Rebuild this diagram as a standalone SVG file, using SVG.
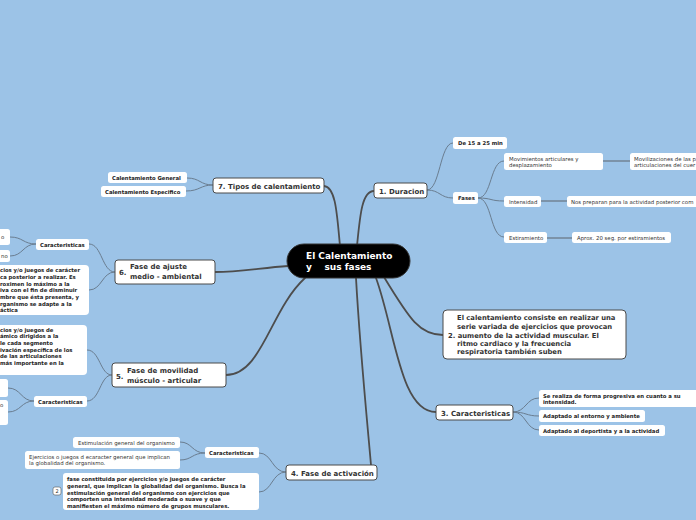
<svg xmlns="http://www.w3.org/2000/svg" width="696" height="520" viewBox="0 0 696 520">
<style>
.bg{fill:#9cc3e7}
.main{fill:#fff;stroke:#4a4a4a;stroke-width:1}
.sub{fill:#fff}
.mt{font-family:"DejaVu Sans",Verdana,sans-serif;font-weight:bold;font-size:7px;fill:#333}
.st{font-family:"DejaVu Sans",Verdana,sans-serif;font-weight:bold;font-size:5.3px;fill:#222}
.nt{font-family:"DejaVu Sans",Verdana,sans-serif;font-size:5.4px;fill:#333}
.ct{font-family:"DejaVu Sans",Verdana,sans-serif;font-weight:bold;font-size:9px;fill:#fff}
.c1{fill:none;stroke:#4d4d4d;stroke-width:1.8;stroke-linecap:round}
.c2{fill:none;stroke:#6a7d90;stroke-width:1}
.c3{fill:none;stroke:#7c93a9;stroke-width:2}
</style>
<rect class="bg" x="0" y="0" width="696" height="520"/>
<g id="connectors">
<path class="c1" d="M357 246 C360 215,362 191,374 191"/>
<path class="c1" d="M340 246 C337 215,336 187,324 186"/>
<path class="c1" d="M288 266 C260 268,240 272,215 272"/>
<path class="c1" d="M305 278 C270 310,262 375,226 375"/>
<path class="c1" d="M356 278 C360 350,368 430,371 465"/>
<path class="c1" d="M376 278 C395 330,400 412,436 412"/>
<path class="c1" d="M384 277 C410 320,420 335,443 335"/>
<path class="c2" d="M427 190 C440 190,440 143,453 143"/>
<path class="c2" d="M427 190 C440 190,440 198,453 198"/>
<path class="c2" d="M478 198 C492 198,490 161,504 161"/>
<path class="c2" d="M478 198 C492 198,490 201,504 201"/>
<path class="c2" d="M478 198 C492 198,490 237,504 237"/>
<path class="c3" d="M603 161 L630 161"/>
<path class="c3" d="M541 201 L567 201"/>
<path class="c3" d="M547 238 L572 238"/>
<path class="c2" d="M513 412 C526 412,526 398,539 398"/>
<path class="c2" d="M513 412 C526 412,526 416,539 416"/>
<path class="c2" d="M513 412 C526 412,526 430,539 430"/>
<path class="c2" d="M213 185 C200 185,200 178,187 178"/>
<path class="c2" d="M213 185 C200 185,200 191,186 191"/>
<path class="c2" d="M115 272 C102 272,102 244,89 244"/>
<path class="c2" d="M115 272 C102 272,102 290,89 290"/>
<path class="c2" d="M36 244 C23 244,23 237,10 237"/>
<path class="c2" d="M36 244 C23 244,23 256,10 256"/>
<path class="c2" d="M112 375 C100 375,100 350,87 350"/>
<path class="c2" d="M112 375 C100 375,100 401,87 401"/>
<path class="c2" d="M34 401 C21 401,21 388,8 388"/>
<path class="c2" d="M34 401 C21 401,21 412,8 412"/>
<path class="c2" d="M286 472 C272 472,272 453,259 453"/>
<path class="c2" d="M286 472 C272 472,272 492,259 492"/>
<path class="c2" d="M205 453 C192 453,192 442,180 442"/>
<path class="c2" d="M205 453 C192 453,192 460,180 460"/>
</g>
<g id="center">
<rect x="287" y="244" width="123" height="34" rx="17" fill="#000" stroke="#333"/>
<text class="ct" x="306" y="259">El Calentamiento</text>
<text class="ct" x="306" y="270" xml:space="preserve">y    sus fases</text>
</g>
<g id="n1">
<rect class="main" x="374" y="183" width="53" height="15" rx="3"/>
<text class="mt" x="379" y="193.5">1. Duracion</text>
</g>
<g id="n1a">
<rect class="sub" x="453" y="137" width="54" height="12" rx="2.5"/>
<text class="st" x="458" y="145">De 15 a 25 min</text>
</g>
<g id="n1b">
<rect class="sub" x="453" y="192" width="25" height="12" rx="2.5"/>
<text class="st" x="458" y="200">Fases</text>
</g>
<g id="n1b1">
<rect class="sub" x="504" y="153" width="99" height="17" rx="2.5"/>
<text class="nt" x="509" y="160.5">Movimientos articulares y</text>
<text class="nt" x="509" y="167">desplazamiento</text>
</g>
<g id="n1b1a">
<rect class="sub" x="630" y="153" width="70" height="17" rx="2.5"/>
<text class="nt" x="634" y="160.5">Movilizaciones de las p</text>
<text class="nt" x="634" y="167">articulaciones del cuer</text>
</g>
<g id="n1b2">
<rect class="sub" x="504" y="196" width="37" height="11" rx="2.5"/>
<text class="nt" x="509" y="203.5">Intensidad</text>
</g>
<g id="n1b2a">
<rect class="sub" x="567" y="196" width="133" height="11" rx="2.5"/>
<text class="nt" x="571" y="203.5">Nos preparan para la actividad posterior com</text>
</g>
<g id="n1b3">
<rect class="sub" x="504" y="232" width="43" height="11" rx="2.5"/>
<text class="nt" x="509" y="239.5">Estiramiento</text>
</g>
<g id="n1b3a">
<rect class="sub" x="572" y="232" width="99" height="11" rx="2.5"/>
<text class="nt" x="577" y="239.5">Aprox. 20 seg. por estiramientos</text>
</g>
<g id="n2">
<rect class="main" x="443" y="310" width="183" height="49" rx="4"/>
<text class="mt" x="457" y="320" style="font-size:6.8px">El calentamiento consiste en realizar una</text>
<text class="mt" x="457" y="329" style="font-size:6.8px">serie variada de ejercicios que provocan</text>
<text class="mt" x="448" y="338" style="font-size:6.8px">2. aumento de la actividad muscular. El</text>
<text class="mt" x="457" y="346" style="font-size:6.8px">ritmo cardiaco y la frecuencia</text>
<text class="mt" x="457" y="354" style="font-size:6.8px">respiratoria también suben</text>
</g>
<g id="n3">
<rect class="main" x="436" y="405" width="77" height="15" rx="3"/>
<text class="mt" x="441" y="415.5">3. Caracteristicas</text>
</g>
<g id="n3a">
<rect class="sub" x="539" y="390" width="160" height="17" rx="2.5"/>
<text class="st" x="543" y="397.5">Se realiza de forma progresiva en cuanto a su</text>
<text class="st" x="543" y="404">intensidad.</text>
</g>
<g id="n3b">
<rect class="sub" x="539" y="410" width="106" height="12" rx="2.5"/>
<text class="st" x="543" y="418">Adaptado al entorno y ambiente</text>
</g>
<g id="n3c">
<rect class="sub" x="539" y="425" width="126" height="11" rx="2.5"/>
<text class="st" x="543" y="432.5">Adaptado al deportista y a la actividad</text>
</g>
<g id="n4">
<rect class="main" x="286" y="465" width="91" height="15" rx="3"/>
<text class="mt" x="291" y="475.5">4. Fase de activación</text>
</g>
<g id="n4a">
<rect class="sub" x="205" y="447" width="54" height="11" rx="2.5"/>
<text class="st" x="209" y="455">Caracteristicas</text>
</g>
<g id="n4a1">
<rect class="sub" x="73" y="437" width="107" height="11" rx="2.5"/>
<text class="nt" x="78" y="444.5">Estimulación general del organismo</text>
</g>
<g id="n4a2">
<rect class="sub" x="25" y="451" width="155" height="18" rx="2.5"/>
<text class="nt" x="29" y="458.5">Ejercicios o juegos d ecaracter general que implican</text>
<text class="nt" x="29" y="465">la globalidad del organismo.</text>
</g>
<g id="n4b">
<rect x="53" y="487" width="8" height="8" rx="2" fill="#fff" stroke="#555" stroke-width="0.6"/>
<text class="nt" x="55.5" y="493" style="font-size:5px">2</text>
<rect class="sub" x="63" y="473" width="196" height="37" rx="3"/>
<text class="st" x="67" y="481">fase constituida por ejercicios y/o juegos de carácter</text>
<text class="st" x="67" y="488">general, que implican la globalidad del organismo. Busca la</text>
<text class="st" x="67" y="494.5">estimulación general del organismo con ejercicios que</text>
<text class="st" x="67" y="501">comporten una intensidad moderada o suave y que</text>
<text class="st" x="67" y="507.5">manifiesten el máximo número de grupos musculares.</text>
</g>
<g id="n5">
<rect class="main" x="112" y="363" width="114" height="24" rx="3"/>
<text class="mt" x="116" y="379">5.</text>
<text class="mt" x="127" y="373">Fase de movilidad</text>
<text class="mt" x="127" y="383">músculo - articular</text>
</g>
<g id="n5a">
<rect class="sub" x="-10" y="325" width="97" height="50" rx="4"/>
<text class="st" x="0" y="331.5">cios y/o juegos de</text>
<text class="st" x="0" y="338">ámico dirigidos a la</text>
<text class="st" x="0" y="345">le cada segmento</text>
<text class="st" x="0" y="351.5">ivación específica de los</text>
<text class="st" x="0" y="358">de las articulaciones</text>
<text class="st" x="0" y="365">más importante en la</text>
</g>
<g id="n5b">
<rect class="sub" x="34" y="396" width="53" height="11" rx="2.5"/>
<text class="st" x="38" y="403.5">Caracteristicas</text>
</g>
<g id="n5b1">
<rect class="sub" x="-10" y="379" width="18" height="18" rx="2.5"/>
</g>
<g id="n5b2">
<rect class="sub" x="-10" y="400" width="18" height="25" rx="2.5"/>
<text class="nt" x="0" y="407">o</text>
</g>
<g id="n6">
<rect class="main" x="115" y="260" width="100" height="24" rx="3"/>
<text class="mt" x="119" y="275">6.</text>
<text class="mt" x="130" y="269">Fase de ajuste</text>
<text class="mt" x="130" y="279">medio - ambiental</text>
</g>
<g id="n6a">
<rect class="sub" x="36" y="239" width="53" height="11" rx="2.5"/>
<text class="st" x="40" y="246.5">Caracteristicas</text>
</g>
<g id="n6a1">
<rect class="sub" x="-10" y="229" width="20" height="16" rx="2.5"/>
<text class="nt" x="1" y="239">o</text>
</g>
<g id="n6a2">
<rect class="sub" x="-10" y="250" width="20" height="12" rx="2.5"/>
<text class="nt" x="1" y="258">no</text>
</g>
<g id="n6b">
<rect class="sub" x="-10" y="265" width="99" height="50" rx="4"/>
<text class="st" x="0" y="272">cios y/o juegos de carácter</text>
<text class="st" x="0" y="279">ca posterior a realizar. Es</text>
<text class="st" x="0" y="285.5">roximen lo máximo a la</text>
<text class="st" x="0" y="292">iva con el fin de disminuir</text>
<text class="st" x="0" y="299">mbre que ésta presenta, y</text>
<text class="st" x="0" y="305.5">rganismo se adapte a la</text>
<text class="st" x="0" y="312">áctica</text>
</g>
<g id="n7">
<rect class="main" x="213" y="178" width="111" height="15" rx="3"/>
<text class="mt" x="218" y="188.5">7. Tipos de calentamiento</text>
</g>
<g id="n7a">
<rect class="sub" x="108" y="172" width="79" height="11" rx="2.5"/>
<text class="st" x="112" y="179.5">Calentamiento General</text>
</g>
<g id="n7b">
<rect class="sub" x="101" y="186" width="85" height="11" rx="2.5"/>
<text class="st" x="105" y="193.5">Calentamiento Especifico</text>
</g>
</svg>
